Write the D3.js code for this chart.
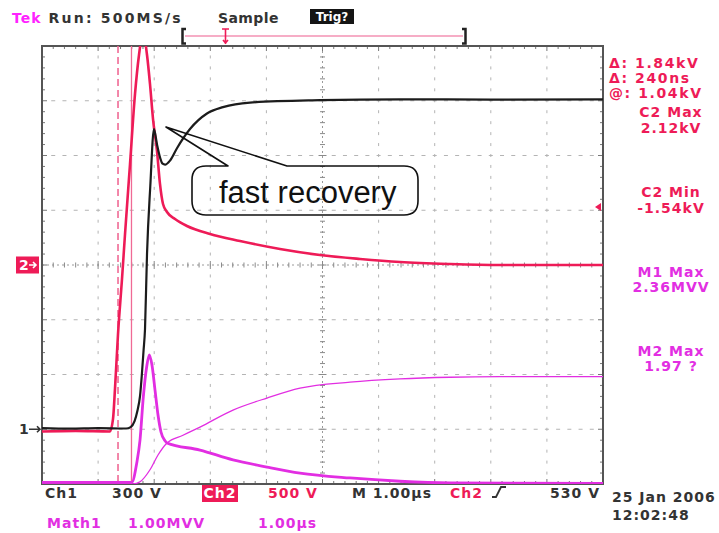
<!DOCTYPE html>
<html>
<head>
<meta charset="utf-8">
<script src="https://cdn.jsdelivr.net/npm/d3@7"></script>
<style>
  html, body { margin: 0; padding: 0; background: #fff; }
  svg { display: block; }
  .scope { font-family: "DejaVu Sans", Verdana, sans-serif; font-weight: bold; font-size: 14px; letter-spacing: 1px; }
</style>
</head>
<body>
<svg id="chart" width="719" height="533"></svg>
<script>
// ---- Acquisition data (time in µs, 1 µs/div) ----
// Ch1: 300 V/div, ground marker 3 div below centre
const ch1Time  = [0, 0.5, 1.0, 1.5, 1.58, 1.65, 1.70, 1.747, 1.78, 1.81, 1.836, 1.872, 1.93, 1.996, 2.05, 2.103, 2.15, 2.193, 2.282, 2.406, 2.638, 2.941, 3.226, 3.708, 4.955, 6.4, 8.0, 10];
const ch1Volts = [6, 3, 6, 4, 12, 45, 100, 181, 300, 430, 548, 960, 1330, 1644, 1560, 1490, 1455, 1450, 1472, 1540, 1645, 1730, 1765, 1790, 1803, 1808, 1806, 1808];

// Ch2: 500 V/div, ground marker at centre
const ch2Time  = [0, 0.6, 1.212, 1.266, 1.301, 1.355, 1.426, 1.480, 1.569, 1.658, 1.729, 1.80, 1.872, 1.925, 1.979, 2.050, 2.103, 2.157, 2.228, 2.371, 2.585, 2.995, 3.529, 4.242, 4.955, 5.668, 6.381, 7.273, 8.164, 10];
const ch2Volts = [-1520, -1515, -1520, -1406, -1132, -630, -128, 283, 922, 1562, 1918, 2120, 1918, 1653, 1333, 1041, 740, 557, 484, 420, 356, 283, 219, 146, 91, 55, 27, 9, 0, 0];

// Math1 (Ch1 x Ch2): 1.00 MVV/div, reference at bottom graticule line
const math1Time   = [0, 1.0, 1.60, 1.688, 1.747, 1.806, 1.866, 1.913, 1.961, 2.014, 2.068, 2.121, 2.193, 2.228, 2.816, 3.405, 4.011, 4.599, 5.490, 6.381, 7.273, 10];
const math1Values = [0.03, 0.03, 0.03, 0.38, 0.8, 1.59, 2.14, 2.36, 2.17, 1.72, 1.26, 0.95, 0.79, 0.75, 0.62, 0.44, 0.31, 0.20, 0.11, 0.05, 0.02, 0.01];

// Math2 (integral of Math1): 1 unit/div, same reference
const math2Time   = [0, 1.622, 1.747, 1.925, 2.068, 2.228, 2.513, 2.816, 3.405, 4.011, 4.599, 5.490, 6.381, 7.273, 8.164, 10];
const math2Values = [0, 0, 0.04, 0.26, 0.53, 0.75, 0.89, 1.04, 1.35, 1.57, 1.75, 1.86, 1.92, 1.95, 1.96, 1.96];

// Time cursors (µs) and Ch2 trigger level (V)
const cursorTimes = [1.355, 1.595];
const ch2TriggerLevel = 530;

// Readout texts
const headerTexts = ["Tek", " Run: 500MS/s", "Sample", "Trig?"];
const cursorReadouts = ["\u0394: 1.84kV", "\u0394: 240ns", "@: 1.04kV"];
const ch2Readouts = ["C2 Max", "2.12kV", "C2 Min", "-1.54kV"];
const mathReadouts = ["M1 Max", "2.36MVV", "M2 Max", "1.97 ?"];
const bottomRow1 = ["Ch1", "300 V", "Ch2", "500 V", "M 1.00\u00b5s", "Ch2", "530 V"];
const bottomRow2 = ["Math1", "1.00MVV", "1.00\u00b5s"];
const dateTexts = ["25 Jan 2006", "12:02:48"];
const calloutText = "fast recovery";

// ---- Graticule geometry ----
const svg = d3.select("#chart");
const scrL = 42, scrR = 603, scrT = 46, scrB = 484;
const x = d3.scaleLinear().domain([0, 10]).range([scrL, scrR]);
const y = d3.scaleLinear().domain([-4, 4]).range([scrB, scrT]);

const C_CH2 = "#ee1b57", C_MATH = "#e22ee2", C_TEXT = "#333", C_CURSOR = "#f06a95";

svg.append("defs").append("clipPath").attr("id", "screen")
  .append("rect").attr("x", scrL).attr("y", scrT)
  .attr("width", scrR - scrL).attr("height", scrB - scrT);

const grid = svg.append("g");
const minorX = d3.range(0, 50.001, 1).map(i => i / 5);
const minorY = d3.range(0, 40.001, 1).map(i => -4 + i / 5);
const isMajor = v => Math.abs(v - Math.round(v)) < 1e-6;

// dotted division lines
[1, 2, 3, 4, 6, 7, 8, 9].forEach(d => {
  grid.selectAll(null).data(minorY.slice(1, -1)).enter().append("rect")
    .attr("x", x(d) - 0.5).attr("y", v => y(v) - 1.5)
    .attr("width", 1).attr("height", 3).attr("fill", "#b4b4b4");
});
[-3, -2, -1, 1, 2, 3].forEach(d => {
  grid.selectAll(null).data(minorX.slice(1, -1)).enter().append("rect")
    .attr("x", v => x(v) - 2).attr("y", y(d) - 0.5)
    .attr("width", 4).attr("height", 1).attr("fill", "#b4b4b4");
});

// centre crosshair with minor ticks
grid.append("line").attr("x1", scrL).attr("x2", scrR).attr("y1", y(0)).attr("y2", y(0))
  .attr("stroke", "#9a9a9a").attr("stroke-width", 1).attr("stroke-dasharray", "2,3");
grid.append("line").attr("x1", x(5)).attr("x2", x(5)).attr("y1", scrT).attr("y2", scrB)
  .attr("stroke", "#9a9a9a").attr("stroke-width", 1).attr("stroke-dasharray", "2,3");
grid.selectAll(null).data(minorX.slice(1, -1)).enter().append("line")
  .attr("x1", v => x(v)).attr("x2", v => x(v))
  .attr("y1", v => y(0) - (isMajor(v) ? 4 : 2.5))
  .attr("y2", v => y(0) + (isMajor(v) ? 4 : 2.5))
  .attr("stroke", "#8a8a8a").attr("stroke-width", 1);
grid.selectAll(null).data(minorY.slice(1, -1)).enter().append("line")
  .attr("y1", v => y(v)).attr("y2", v => y(v))
  .attr("x1", v => x(5) - (isMajor(v) ? 4 : 2.5))
  .attr("x2", v => x(5) + (isMajor(v) ? 4 : 2.5))
  .attr("stroke", "#8a8a8a").attr("stroke-width", 1);

// border ticks
grid.selectAll(null).data(minorX.slice(1, -1)).enter().append("path")
  .attr("d", v => { const l = isMajor(v) ? 5 : 3; return `M${x(v)},${scrT}v${l}M${x(v)},${scrB}v${-l}`; })
  .attr("stroke", "#777").attr("stroke-width", 1);
grid.selectAll(null).data(minorY.slice(1, -1)).enter().append("path")
  .attr("d", v => { const l = isMajor(v) ? 5 : 3; return `M${scrL},${y(v)}h${l}M${scrR},${y(v)}h${-l}`; })
  .attr("stroke", "#777").attr("stroke-width", 1);

// frame
svg.append("rect").attr("x", scrL).attr("y", scrT).attr("width", scrR - scrL).attr("height", scrB - scrT)
  .attr("fill", "none").attr("stroke", "#555").attr("stroke-width", 2);

// ---- Traces ----
const traces = svg.append("g").attr("clip-path", "url(#screen)");

// cursors
traces.append("line").attr("x1", x(cursorTimes[0])).attr("x2", x(cursorTimes[0]))
  .attr("y1", scrT).attr("y2", scrB).attr("stroke", C_CURSOR).attr("stroke-width", 1.6)
  .attr("stroke-dasharray", "7,4");
traces.append("line").attr("x1", x(cursorTimes[1])).attr("x2", x(cursorTimes[1]))
  .attr("y1", scrT).attr("y2", scrB).attr("stroke", C_CURSOR).attr("stroke-width", 1.3);

const line = d3.line().x(d => x(d.t)).y(d => y(d.div)).curve(d3.curveMonotoneX);
const series = (ts, vs, perDiv, offset) => ts.map((t, i) => ({ t, div: vs[i] / perDiv + offset }));

traces.append("path").datum(series(ch2Time, ch2Volts, 500, 0)).attr("d", line)
  .attr("fill", "none").attr("stroke", C_CH2).attr("stroke-width", 2.6).attr("stroke-linejoin", "round");
traces.append("path").datum(series(ch1Time, ch1Volts, 300, -3)).attr("d", line)
  .attr("fill", "none").attr("stroke", "#1c1c1c").attr("stroke-width", 2.2).attr("stroke-linejoin", "round");
traces.append("path").datum(series(math2Time, math2Values, 1, -4)).attr("d", line)
  .attr("fill", "none").attr("stroke", C_MATH).attr("stroke-width", 1.3);
traces.append("path").datum(series(math1Time, math1Values, 1, -4)).attr("d", line)
  .attr("fill", "none").attr("stroke", C_MATH).attr("stroke-width", 2.8).attr("stroke-linejoin", "round");

// Ch2 trigger level marker on right edge
const trigY = y(ch2TriggerLevel / 500);
svg.append("path").attr("d", `M${scrR - 8},${trigY} l6,-4 v8 Z`).attr("fill", C_CH2);

// ---- Header ----
const hdr = svg.append("text").attr("class", "scope").attr("x", 12).attr("y", 23);
hdr.append("tspan").attr("fill", "#ff22ff").text(headerTexts[0]);
hdr.append("tspan").attr("fill", C_TEXT).style("letter-spacing", "2.2px").text(headerTexts[1]);
svg.append("text").attr("class", "scope").attr("x", 218).attr("y", 23).attr("fill", C_TEXT)
  .style("letter-spacing", "0.4px").text(headerTexts[2]);
svg.append("rect").attr("x", 310).attr("y", 9).attr("width", 44).attr("height", 15).attr("fill", "#151515");
svg.append("text").attr("class", "scope").attr("x", 332).attr("y", 21).attr("text-anchor", "middle")
  .attr("fill", "#fff").style("font-size", "12px").style("letter-spacing", "0px").text(headerTexts[3]);

// record view bar with trigger point
svg.append("line").attr("x1", 185).attr("x2", 463).attr("y1", 36).attr("y2", 36)
  .attr("stroke", "#f392b3").attr("stroke-width", 1.5);
svg.append("path").attr("d", "M186,29 H182.5 V43.5 H186").attr("fill", "none").attr("stroke", "#222").attr("stroke-width", 2.5);
svg.append("path").attr("d", "M462,29 H465.5 V43.5 H462").attr("fill", "none").attr("stroke", "#222").attr("stroke-width", 2.5);
svg.append("path").attr("d", "M222,29 H229 M225.5,29 V44 M223,40 l2.5,3 l2.5,-3").attr("fill", "none")
  .attr("stroke", C_CH2).attr("stroke-width", 1.6);

// ---- Right readouts ----
cursorReadouts.forEach((s, i) => {
  svg.append("text").attr("class", "scope").attr("x", 609).attr("y", 68 + i * 15).attr("fill", C_CH2)
    .style("letter-spacing", "1.6px").text(s);
});
[117, 133, 197, 213].forEach((yy, i) => {
  svg.append("text").attr("class", "scope").attr("x", 671).attr("y", yy).attr("text-anchor", "middle")
    .attr("fill", C_CH2).text(ch2Readouts[i]);
});
[277, 292, 356, 371].forEach((yy, i) => {
  svg.append("text").attr("class", "scope").attr("x", 671).attr("y", yy).attr("text-anchor", "middle")
    .attr("fill", C_MATH).text(mathReadouts[i]);
});

// ---- Bottom readouts ----
const b1y = 498;
svg.append("text").attr("class", "scope").attr("x", 45).attr("y", b1y).attr("fill", C_TEXT).text(bottomRow1[0]);
svg.append("text").attr("class", "scope").attr("x", 112).attr("y", b1y).attr("fill", C_TEXT).text(bottomRow1[1]);
svg.append("rect").attr("x", 202).attr("y", 485).attr("width", 36).attr("height", 17).attr("fill", C_CH2);
svg.append("text").attr("class", "scope").attr("x", 220).attr("y", b1y).attr("text-anchor", "middle")
  .attr("fill", "#fff").text(bottomRow1[2]);
svg.append("text").attr("class", "scope").attr("x", 268).attr("y", b1y).attr("fill", C_CH2).text(bottomRow1[3]);
svg.append("text").attr("class", "scope").attr("x", 352).attr("y", b1y).attr("fill", C_TEXT).text(bottomRow1[4]);
svg.append("text").attr("class", "scope").attr("x", 450).attr("y", b1y).attr("fill", C_CH2).text(bottomRow1[5]);
svg.append("path").attr("d", "M492,497 h4 l5,-10 h5").attr("fill", "none").attr("stroke", C_TEXT).attr("stroke-width", 1.8);
svg.append("text").attr("class", "scope").attr("x", 600).attr("y", b1y).attr("text-anchor", "end")
  .attr("fill", C_TEXT).text(bottomRow1[6]);
svg.append("text").attr("class", "scope").attr("x", 47).attr("y", 528).attr("fill", C_MATH).text(bottomRow2[0]);
svg.append("text").attr("class", "scope").attr("x", 128).attr("y", 528).attr("fill", C_MATH).text(bottomRow2[1]);
svg.append("text").attr("class", "scope").attr("x", 258).attr("y", 528).attr("fill", C_MATH).text(bottomRow2[2]);
svg.append("text").attr("class", "scope").attr("x", 612).attr("y", 502).attr("fill", C_TEXT).text(dateTexts[0]);
svg.append("text").attr("class", "scope").attr("x", 612).attr("y", 520).attr("fill", C_TEXT).text(dateTexts[1]);

// ---- Channel ground markers ----
svg.append("rect").attr("x", 16).attr("y", y(0) - 8.5).attr("width", 23).attr("height", 17).attr("fill", C_CH2);
svg.append("text").attr("class", "scope").attr("x", 19).attr("y", y(0) + 5).attr("fill", "#fff").text("2");
svg.append("path").attr("d", `M29,${y(0)} h7 m-3,-3 l3,3 l-3,3`).attr("fill", "none").attr("stroke", "#fff").attr("stroke-width", 1.6);
svg.append("text").attr("class", "scope").attr("x", 19).attr("y", y(-3) + 5).attr("fill", C_TEXT).text("1");
svg.append("path").attr("d", `M29,${y(-3)} h11 m-3,-3 l3,3 l-3,3`).attr("fill", "none").attr("stroke", C_TEXT).attr("stroke-width", 1.6);

// ---- Annotation callout ----
svg.append("path")
  .attr("d", "M228,166 L166,127 L287,166 L404,166 Q418,166 418,180 L418,201 Q418,215 404,215 L206,215 Q192,215 192,201 L192,180 Q192,166 206,166 Z")
  .attr("fill", "none").attr("stroke", "#111").attr("stroke-width", 1.6).attr("stroke-linejoin", "round");
svg.append("text").attr("x", 219).attr("y", 203)
  .attr("font-family", "'Liberation Sans', Arial, sans-serif").attr("font-size", 31)
  .attr("fill", "#111").text(calloutText);
</script>
</body>
</html>
